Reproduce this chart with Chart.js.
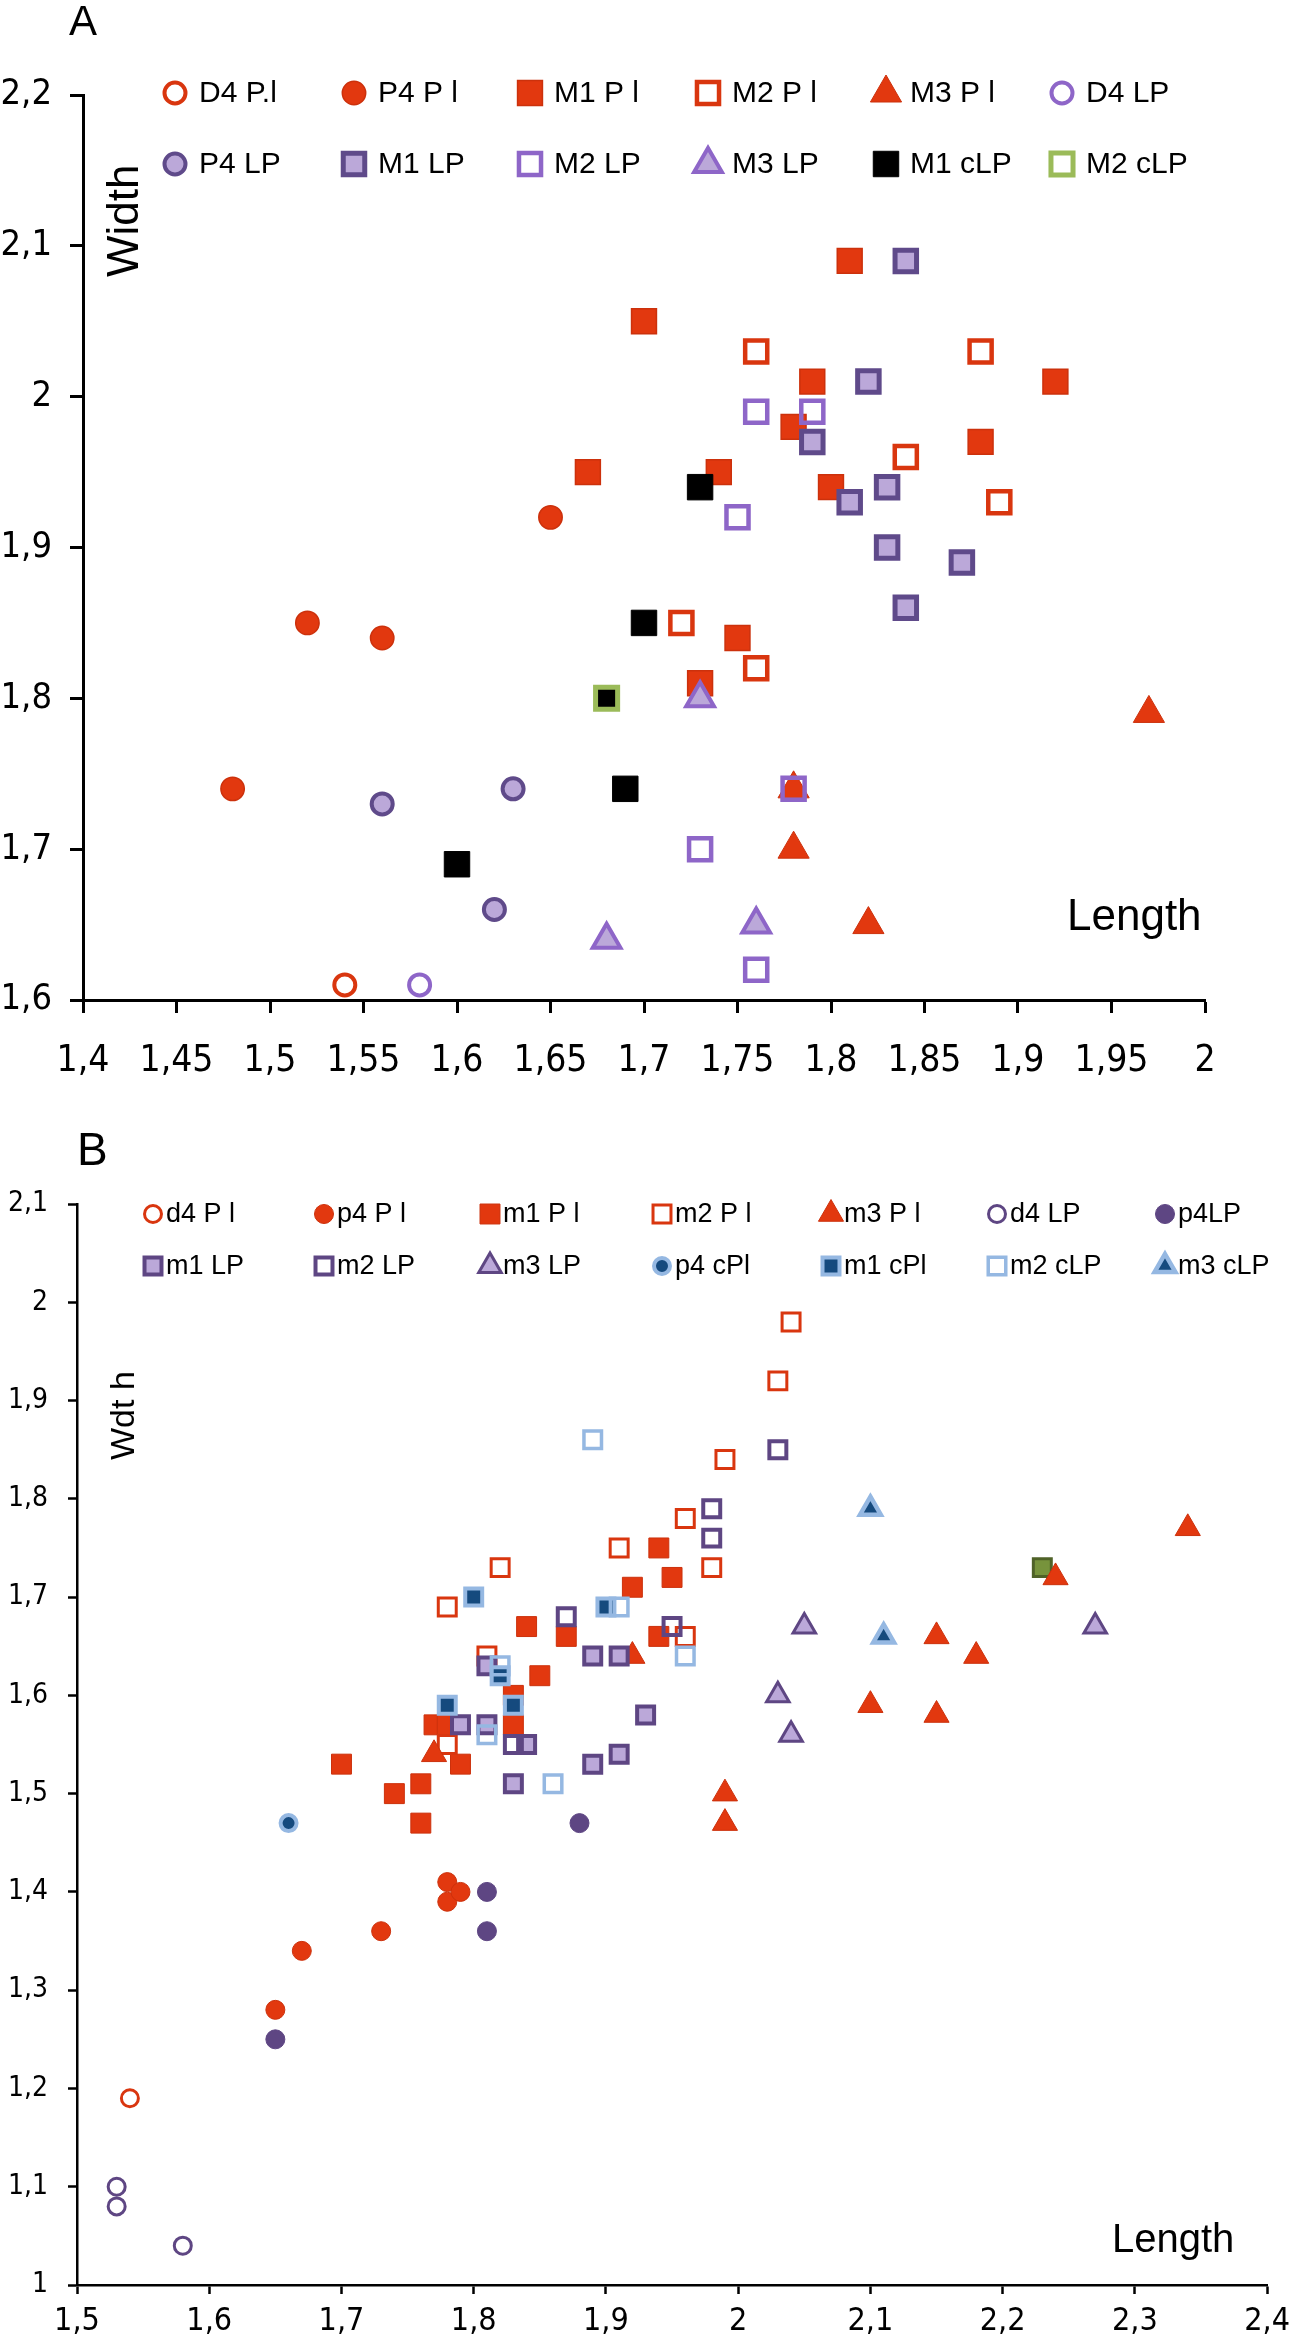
<!DOCTYPE html>
<html>
<head>
<meta charset="utf-8">
<script src="https://cdn.jsdelivr.net/npm/chart.js@4.4.1/dist/chart.umd.min.js"></script>
<style>
  html, body { margin: 0; padding: 0; background: #fff; }
  canvas { display: block; }
</style>
</head>
<body>
<canvas id="chartA" width="1298" height="1110"></canvas>
<canvas id="chartB" width="1298" height="1230"></canvas>
<script>
// ---- panel A data : [length, width]
const A_D4_Pl = [[1.54, 1.61]];
const A_P4_Pl = [[1.48, 1.74], [1.52, 1.85], [1.56, 1.84], [1.65, 1.92]];
const A_M1_Pl = [[1.67, 1.95], [1.70, 2.05], [1.74, 1.95], [1.73, 1.81], [1.75, 1.84], [1.78, 1.98],
                 [1.79, 2.01], [1.80, 1.94], [1.81, 2.09], [1.88, 1.97], [1.92, 2.01]];
const A_M2_Pl = [[1.72, 1.85], [1.76, 1.82], [1.76, 2.03], [1.84, 1.96], [1.88, 2.03], [1.89, 1.93]];
const A_M3_Pl = [[1.78, 1.74], [1.78, 1.70], [1.82, 1.65], [1.97, 1.79]];
const A_D4_LP = [[1.58, 1.61]];
const A_P4_LP = [[1.56, 1.73], [1.63, 1.74], [1.62, 1.66]];
const A_M1_LP = [[1.84, 2.09], [1.82, 2.01], [1.79, 1.97], [1.83, 1.94], [1.81, 1.93], [1.83, 1.90],
                 [1.87, 1.89], [1.84, 1.86]];
const A_M2_LP = [[1.76, 1.99], [1.79, 1.99], [1.75, 1.92], [1.78, 1.74], [1.73, 1.70], [1.76, 1.62]];
const A_M3_LP = [[1.73, 1.80], [1.68, 1.64], [1.76, 1.65]];
const A_M1_cLP = [[1.73, 1.94], [1.70, 1.85], [1.69, 1.74], [1.60, 1.69]];
const A_M2_cLP = [[1.68, 1.80]];

const A_LABELS = ['D4 P.l', 'P4 P l', 'M1 P l', 'M2 P l', 'M3 P l', 'D4 LP',
                  'P4 LP', 'M1 LP', 'M2 LP', 'M3 LP', 'M1 cLP', 'M2 cLP'];
const A_X_TICKS = [1.4, 1.45, 1.5, 1.55, 1.6, 1.65, 1.7, 1.75, 1.8, 1.85, 1.9, 1.95, 2];
const A_Y_TICKS = [1.6, 1.7, 1.8, 1.9, 2, 2.1, 2.2];

// ---- panel B data : [length, width]
const B_d4_Pl = [[1.54, 1.19]];
const B_p4_Pl = [[1.65, 1.28], [1.67, 1.34], [1.73, 1.36], [1.78, 1.39], [1.78, 1.41], [1.79, 1.40]];
const B_m1_Pl = [[1.70, 1.53], [1.74, 1.50], [1.76, 1.51], [1.76, 1.47], [1.77, 1.57], [1.78, 1.57],
                 [1.79, 1.53], [1.83, 1.57], [1.83, 1.60], [1.85, 1.62], [1.84, 1.67], [1.87, 1.66],
                 [1.92, 1.71], [1.94, 1.75], [1.95, 1.72], [1.94, 1.66]];
const B_m2_Pl = [[1.78, 1.69], [1.82, 1.73], [1.81, 1.64], [1.78, 1.55], [1.91, 1.75], [1.96, 1.66],
                 [1.96, 1.78], [1.98, 1.73], [1.99, 1.84], [2.03, 1.92], [2.04, 1.98]];
const B_m3_Pl = [[1.77, 1.54], [1.92, 1.64], [1.99, 1.50], [1.99, 1.47], [2.10, 1.59], [2.15, 1.58],
                 [2.15, 1.66], [2.18, 1.64], [2.24, 1.72], [2.34, 1.77]];
const B_d4_LP = [[1.53, 1.10], [1.53, 1.08], [1.58, 1.04]];
const B_p4_LP = [[1.65, 1.25], [1.81, 1.40], [1.81, 1.36], [1.88, 1.47]];
const B_m1_LP = [[1.79, 1.57], [1.81, 1.63], [1.81, 1.57], [1.84, 1.55], [1.83, 1.51], [1.89, 1.64],
                 [1.91, 1.64], [1.93, 1.58], [1.91, 1.54], [1.89, 1.53]];
const B_m2_LP = [[1.87, 1.68], [1.83, 1.55], [1.95, 1.67], [1.98, 1.76], [1.98, 1.79], [2.03, 1.85]];
const B_m3_LP = [[2.03, 1.60], [2.04, 1.56], [2.05, 1.67], [2.27, 1.67]];
const B_p4_cPl = [[1.66, 1.47]];
const B_m1_cPl = [[1.80, 1.70], [1.90, 1.69], [1.82, 1.62], [1.78, 1.59], [1.83, 1.59]];
const B_m2_cLP = [[1.89, 1.86], [1.91, 1.69], [1.82, 1.63], [1.81, 1.56], [1.86, 1.51], [1.96, 1.64]];
const B_m3_cLP = [[2.10, 1.79], [2.11, 1.66]];
const B_extra = [[2.23, 1.73]];   // green point, not in the legend

const B_LABELS = ['d4 P l', 'p4 P l', 'm1 P l', 'm2 P l', 'm3 P l', 'd4 LP', 'p4LP',
                  'm1 LP', 'm2 LP', 'm3 LP', 'p4 cPl', 'm1 cPl', 'm2 cLP', 'm3 cLP'];
const B_X_TICKS = [1.5, 1.6, 1.7, 1.8, 1.9, 2, 2.1, 2.2, 2.3, 2.4];
const B_Y_TICKS = [1, 1.1, 1.2, 1.3, 1.4, 1.5, 1.6, 1.7, 1.8, 1.9, 2, 2.1];

// colours
const RED = '#E2380F', RED_LINE = '#CC310C', RED_OPEN = '#D9360F';
const LILAC = '#BBA8D9', PURPLE_A = '#5F4A8A', PURPLE_OPEN = '#8E66C8', PURPLE_B = '#5E4683';
const NAVY = '#154A7E', SKY = '#95B8E2';
const NONE = 'rgba(0,0,0,0)';
const NARROW = '"Liberation Sans Narrow", "Arial Narrow", "DejaVu Sans Condensed", sans-serif';
const SANS = '"Liberation Sans", Arial, sans-serif';

function fmt(v) {
  return String(Math.round(v * 100) / 100).replace('.', ',');
}

function ds(label, pts, st) {
  return Object.assign({
    label: label,
    data: pts.map(p => ({ x: p[0], y: p[1] })),
    pointStyle: st.shape,
    pointRadius: st.r,
    pointHoverRadius: st.r,
    pointBackgroundColor: st.fill,
    pointBorderColor: st.line,
    pointBorderWidth: st.bw,
    showLine: false,
    clip: false
  }, st.extra || {});
}

// marker for the legend, drawn the same way chart.js draws points
function marker(ctx, d, x, y) {
  ctx.save();
  ctx.fillStyle = d.legendFill || d.pointBackgroundColor;
  ctx.strokeStyle = d.pointBorderColor;
  ctx.lineWidth = d.pointBorderWidth;
  const r = d.pointRadius;
  ctx.beginPath();
  if (d.pointStyle === 'circle') {
    ctx.arc(x, y, r, 0, Math.PI * 2);
  } else if (d.pointStyle === 'rect') {
    const s = r * Math.SQRT1_2;
    ctx.rect(x - s, y - s, 2 * s, 2 * s);
  } else {
    ctx.moveTo(x, y - r);
    ctx.lineTo(x + r * 0.866, y + r / 2);
    ctx.lineTo(x - r * 0.866, y + r / 2);
    ctx.closePath();
  }
  ctx.fill();
  if (d.pointBorderWidth > 0) ctx.stroke();
  ctx.restore();
}

// legend laid out in a grid inside the plot, plus the free labels
const panelText = {
  id: 'panelText',
  afterDraw(chart, args, o) {
    const ctx = chart.ctx;
    const items = chart.data.datasets.filter(d => !d.legendSkip);
    ctx.save();
    ctx.fillStyle = '#000';
    ctx.textBaseline = 'middle';
    ctx.font = o.legendFont;
    items.forEach((d, i) => {
      const col = i % o.cols.length, row = Math.floor(i / o.cols.length);
      const x = o.cols[col], y = o.rows[row];
      marker(ctx, d, x, y);
      ctx.fillText(d.label, x + o.textGap, y + 1);
    });
    ctx.textBaseline = 'alphabetic';
    ctx.font = o.letterFont;
    ctx.fillText(o.letter, o.letterX, o.letterY);
    ctx.font = o.axisFont;
    ctx.fillText('Length', o.lengthX, o.lengthY);
    ctx.translate(o.widthX, o.widthY);
    ctx.rotate(-Math.PI / 2);
    ctx.font = o.widthFont;
    ctx.fillText(o.widthText, 0, 0);
    ctx.restore();
  }
};

function axes(xmin, xmax, xticks, ymin, ymax, yticks, o) {
  const common = (ticks, size, pad, len, lw) => ({
    afterBuildTicks: s => { s.ticks = ticks.map(v => ({ value: v })); },
    ticks: { color: '#000', font: { family: NARROW, size: size }, padding: pad, maxRotation: 0, autoSkip: false,
             callback: v => fmt(v) },
    grid: { drawOnChartArea: false, drawTicks: true, tickLength: len, tickWidth: lw, tickColor: '#000' },
    border: { color: '#000', width: lw }
  });
  const x = common(xticks, o.xFont, o.xPad, o.tick, o.lw);
  x.type = 'linear'; x.min = xmin; x.max = xmax;
  x.afterFit = s => { s.height = o.xHeight; };
  const y = common(yticks, o.yFont, o.yPad, o.tick, o.lw);
  y.type = 'linear'; y.min = ymin; y.max = ymax;
  y.afterFit = s => { s.width = o.yWidth; };
  return { x: x, y: y };
}

// ---- panel A
const aStyles = [
  { shape: 'circle', r: 10.5, fill: NONE, line: RED_OPEN, bw: 4 },
  { shape: 'circle', r: 11.7, fill: RED, line: RED_LINE, bw: 1.5 },
  { shape: 'rect', r: 17.6, fill: RED, line: RED_LINE, bw: 1.5 },
  { shape: 'rect', r: 15.6, fill: NONE, line: RED_OPEN, bw: 4.5 },
  { shape: 'triangle', r: 18, fill: RED, line: RED_LINE, bw: 1 },
  { shape: 'circle', r: 10.5, fill: NONE, line: PURPLE_OPEN, bw: 4 },
  { shape: 'circle', r: 10.5, fill: LILAC, line: PURPLE_A, bw: 4 },
  { shape: 'rect', r: 15.2, fill: LILAC, line: PURPLE_A, bw: 5 },
  { shape: 'rect', r: 15.6, fill: NONE, line: PURPLE_OPEN, bw: 4.5 },
  { shape: 'triangle', r: 16, fill: LILAC, line: PURPLE_OPEN, bw: 4 },
  { shape: 'rect', r: 18, fill: '#000', line: '#000', bw: 1 },
  { shape: 'rect', r: 15.6, fill: '#000', line: '#9BBB59', bw: 5, extra: { legendFill: '#fff' } }
];
const aSeries = [A_D4_Pl, A_P4_Pl, A_M1_Pl, A_M2_Pl, A_M3_Pl, A_D4_LP,
                 A_P4_LP, A_M1_LP, A_M2_LP, A_M3_LP, A_M1_cLP, A_M2_cLP];
const aData = aSeries.map((pts, i) => Object.assign(ds(A_LABELS[i], pts, aStyles[i]), { order: -i }));

new Chart(document.getElementById('chartA'), {
  type: 'scatter',
  data: { datasets: aData },
  plugins: [panelText],
  options: {
    responsive: false, animation: false, devicePixelRatio: 1,
    layout: { padding: { top: 95, right: 93, left: 0, bottom: 0 } },
    scales: axes(1.4, 2, A_X_TICKS, 1.6, 2.2, A_Y_TICKS,
                 { xFont: 37, yFont: 36, xPad: 26, yPad: 18, tick: 13, lw: 3, xHeight: 110, yWidth: 83 }),
    plugins: {
      legend: { display: false }, tooltip: { enabled: false },
      panelText: {
        cols: [175, 354, 530, 708, 886, 1062], rows: [93, 164], textGap: 24,
        legendFont: '30px ' + SANS,
        letter: 'A', letterFont: '42px ' + SANS, letterX: 69, letterY: 35,
        axisFont: '44px ' + SANS, lengthX: 1067, lengthY: 930,
        widthText: 'Width', widthFont: '44px ' + SANS, widthX: 138, widthY: 277
      }
    }
  }
});

// ---- panel B
const bStyles = [
  { shape: 'rect', r: 12.7, fill: '#77933C', line: '#4F6228', bw: 3, extra: { legendSkip: true } },
  { shape: 'circle', r: 8.5, fill: NONE, line: RED_OPEN, bw: 3 },
  { shape: 'circle', r: 9.5, fill: RED, line: RED_LINE, bw: 1 },
  { shape: 'rect', r: 14.1, fill: RED, line: RED_LINE, bw: 1 },
  { shape: 'rect', r: 12.7, fill: NONE, line: RED_OPEN, bw: 3 },
  { shape: 'triangle', r: 14.5, fill: RED, line: RED_LINE, bw: 1 },
  { shape: 'circle', r: 8.5, fill: NONE, line: PURPLE_B, bw: 3 },
  { shape: 'circle', r: 9.5, fill: PURPLE_B, line: PURPLE_B, bw: 1 },
  { shape: 'rect', r: 12, fill: LILAC, line: PURPLE_B, bw: 4 },
  { shape: 'rect', r: 12, fill: NONE, line: PURPLE_B, bw: 4 },
  { shape: 'triangle', r: 13, fill: LILAC, line: PURPLE_B, bw: 3 },
  { shape: 'circle', r: 8, fill: NAVY, line: SKY, bw: 4 },
  { shape: 'rect', r: 12, fill: NAVY, line: SKY, bw: 4 },
  { shape: 'rect', r: 12.4, fill: NONE, line: SKY, bw: 3.5 },
  { shape: 'triangle', r: 12, fill: NAVY, line: SKY, bw: 4.5 }
];
const bSeries = [B_extra, B_d4_Pl, B_p4_Pl, B_m1_Pl, B_m2_Pl, B_m3_Pl, B_d4_LP, B_p4_LP,
                 B_m1_LP, B_m2_LP, B_m3_LP, B_p4_cPl, B_m1_cPl, B_m2_cLP, B_m3_cLP];
const bNames = ['M2 cLP'].concat(B_LABELS);
const bData = bSeries.map((pts, i) => Object.assign(ds(bNames[i], pts, bStyles[i]), { order: -i }));

new Chart(document.getElementById('chartB'), {
  type: 'scatter',
  data: { datasets: bData },
  plugins: [panelText],
  options: {
    responsive: false, animation: false, devicePixelRatio: 1,
    layout: { padding: { top: 94, right: 21, left: 0, bottom: 0 } },
    scales: axes(1.5, 2.4, B_X_TICKS, 1, 2.1, B_Y_TICKS,
                 { xFont: 32, yFont: 28, xPad: 8, yPad: 20, tick: 9, lw: 2.5, xHeight: 55, yWidth: 77 }),
    plugins: {
      legend: { display: false }, tooltip: { enabled: false },
      panelText: {
        cols: [153, 324, 490, 662, 831, 997, 1165], rows: [104, 156], textGap: 13,
        legendFont: '27px ' + SANS,
        letter: 'B', letterFont: '46px ' + SANS, letterX: 77, letterY: 55,
        axisFont: '40px ' + SANS, lengthX: 1112, lengthY: 1142,
        widthText: 'Wdt h', widthFont: '34px ' + SANS, widthX: 134, widthY: 350
      }
    }
  }
});
</script>
</body>
</html>
